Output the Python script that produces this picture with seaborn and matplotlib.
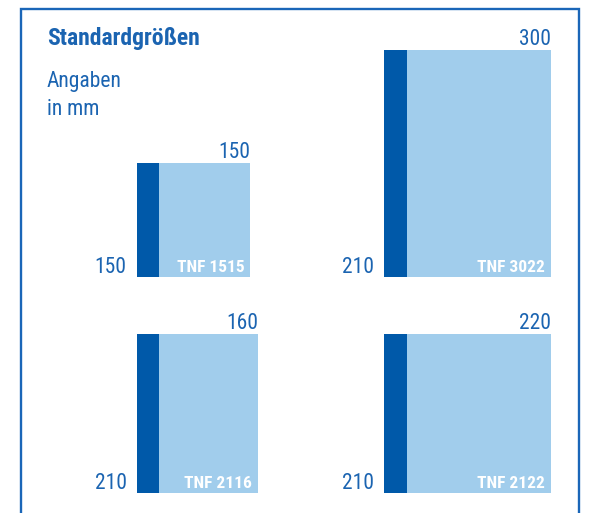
import matplotlib
matplotlib.use("Agg")
import matplotlib.pyplot as plt
import seaborn as sns
from matplotlib.lines import Line2D

# ---- data (mm) ----
names = ["TNF 1515", "TNF 3022", "TNF 2116", "TNF 2122"]
widths = [150, 220, 160, 220]          # drawn width of each format
heights = [150, 300, 210, 210]         # drawn height of each format
top_labels = ["150", "300", "160", "220"]
side_labels = ["150", "210", "210", "210"]
strip_mm = 30                          # dark strip on the left edge
title = "Standardgrößen"
subtitle = ["Angaben", "in mm"]

# ---- layout ----
W, H = 595, 513
S = 0.757  # px per mm
lefts_px = [136.7, 384.0, 136.7, 384.0]
bottoms_px = [276.7, 276.7, 492.7, 492.7]   # from top of figure
lefts = [p / S for p in lefts_px]
bottoms = [(H - p) / S for p in bottoms_px]

DARK = "#0059a9"
LIGHT = "#a1cdec"
TXT = "#1b64b1"
FRAME = "#1a66b8"

sns.set_theme(style="white")
plt.rcParams["font.family"] = ["Roboto Condensed", "DejaVu Sans"]

fig = plt.figure(figsize=(W / 100, H / 100), dpi=100)
ax = fig.add_axes([0, 0, 1, 1])
ax.set_xlim(0, W / S)
ax.set_ylim(0, H / S)
ax.axis("off")

ax.bar(lefts, heights, width=widths, bottom=bottoms, align="edge",
       color=LIGHT, linewidth=0)
ax.bar(lefts, heights, width=strip_mm, bottom=bottoms, align="edge",
       color=DARK, linewidth=0)

for i in range(len(names)):
    x0, y0 = lefts[i], bottoms[i]
    x1, y1 = x0 + widths[i], y0 + heights[i]
    ax.annotate(top_labels[i], xy=(x1, y1), xytext=(0, 5),
                textcoords="offset pixels", ha="right", va="baseline",
                fontsize=15.5, color=TXT, fontweight="normal")
    ax.annotate(side_labels[i], xy=(x0, y0), xytext=(-10, 4),
                textcoords="offset pixels", ha="right", va="baseline",
                fontsize=15.5, color=TXT, fontweight="normal")
    ax.annotate(names[i], xy=(x1, y0), xytext=(-6, 5),
                textcoords="offset pixels", ha="right", va="baseline",
                fontsize=12.5, color="white", fontweight="bold")

fig.text(47 / W, 1 - 45 / H, title, ha="left", va="baseline",
         fontsize=17, fontweight="bold", color=TXT)
fig.text(47 / W, 1 - 87 / H, subtitle[0], ha="left", va="baseline",
         fontsize=15.5, color=TXT, fontweight="normal")
fig.text(47 / W, 1 - 115 / H, subtitle[1], ha="left", va="baseline",
         fontsize=15.5, color=TXT, fontweight="normal")

# frame (open at bottom)
fx = [20.5 / W, 20.5 / W, 578.8 / W, 578.8 / W]
fy = [0, 1 - 9 / H, 1 - 9 / H, 0]
fig.add_artist(Line2D(fx, fy, transform=fig.transFigure, color=FRAME,
                      linewidth=1.7, solid_joinstyle="miter"))

fig.savefig("out.png", dpi=100)
